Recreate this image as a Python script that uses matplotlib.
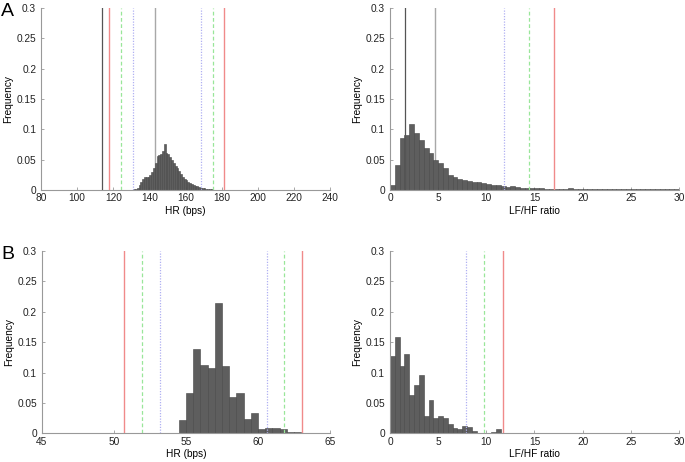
import numpy as np
import matplotlib
matplotlib.use("Agg")
import matplotlib.pyplot as plt
from matplotlib.ticker import FuncFormatter

plt.rcParams['font.family'] = ['Liberation Sans', 'DejaVu Sans']
plt.rcParams['font.size'] = 7.3

# ---- panel A, heart rate (1 bps bins starting at 131)
hr_a_start = 131.0
hr_a_width = 1.0
hr_a_freq = [0.001, 0.002, 0.004, 0.008, 0.013, 0.018, 0.021, 0.022, 0.022, 0.025,
             0.030, 0.036, 0.045, 0.056, 0.057, 0.060, 0.065, 0.076, 0.061, 0.059,
             0.055, 0.050, 0.045, 0.040, 0.036, 0.031, 0.027, 0.022, 0.018, 0.016,
             0.014, 0.012, 0.010, 0.008, 0.007, 0.006, 0.005, 0.004, 0.003, 0.003,
             0.002, 0.002, 0.001, 0.001, 0.0005]
hr_a_red = [117.8, 181.5]
hr_a_green = [124.3, 175.2]
hr_a_blue = [130.8, 168.6]
hr_a_dark = [113.9]
hr_a_grey = [143.0]

# ---- panel A, LF/HF ratio (0.5 bins from 0)
lf_a_start = 0.0
lf_a_width = 0.5
lf_a_freq = [0.009, 0.042, 0.086, 0.091, 0.108, 0.094, 0.083, 0.070, 0.061, 0.050,
             0.045, 0.037, 0.025, 0.021, 0.018, 0.017, 0.015, 0.014, 0.013, 0.012,
             0.010, 0.008, 0.008, 0.006, 0.005, 0.006, 0.005, 0.004, 0.003, 0.003,
             0.003, 0.003, 0.002, 0.002, 0.002, 0.002, 0.002, 0.003, 0.002, 0.002,
             0.001, 0.002, 0.001, 0.002, 0.001, 0.001, 0.002, 0.001, 0.001, 0.001,
             0.001, 0.002, 0.001, 0.001, 0.001, 0.002, 0.001, 0.001, 0.001, 0.002]
lf_a_red = [17.06]
lf_a_green = [14.47]
lf_a_blue = [11.8]
lf_a_dark = [1.59]
lf_a_grey = [4.7]

# ---- panel B, heart rate (0.5 bps bins starting at 54.5)
hr_b_start = 54.5
hr_b_width = 0.5
hr_b_freq = [0.022, 0.067, 0.139, 0.112, 0.108, 0.214, 0.111, 0.059, 0.067, 0.024,
             0.033, 0.007, 0.009, 0.009, 0.007, 0.002, 0.002]
hr_b_red = [50.69, 63.07]
hr_b_green = [51.96, 61.83]
hr_b_blue = [53.18, 60.62]

# ---- panel B, LF/HF ratio (0.5 bins from 0)
lf_b_start = 0.0
lf_b_width = 0.5
lf_b_freq = [0.127, 0.159, 0.111, 0.130, 0.063, 0.080, 0.096, 0.029, 0.055, 0.026,
             0.029, 0.026, 0.016, 0.009, 0.007, 0.012, 0.010, 0.003, 0.0, 0.0,
             0.0, 0.002, 0.007]
lf_b_red = [11.74]
lf_b_green = [9.8]
lf_b_blue = [7.93]

RED = '#f08a8a'
GREEN = '#99e699'
BLUE = '#b0b0f2'
DARK = '#555555'
GREY = '#a8a8a8'


def panel(ax, start, width, freq, xlim, xticks, xlabel,
          red=(), green=(), blue=(), dark=(), grey=()):
    lefts = start + width * np.arange(len(freq))
    ax.bar(lefts, freq, width=width, align='edge', color='#5e5e5e',
           edgecolor='#454545', linewidth=0.4, zorder=2)
    for x in red:
        ax.axvline(x, color=RED, lw=1.0, zorder=3)
    for x in green:
        ax.axvline(x, color=GREEN, lw=0.9, ls=(0, (3, 2)), zorder=3)
    for x in blue:
        ax.axvline(x, color=BLUE, lw=0.9, ls=(0, (1, 1.2)), zorder=3)
    for x in dark:
        ax.axvline(x, color=DARK, lw=0.9, zorder=3)
    for x in grey:
        ax.axvline(x, color=GREY, lw=1.0, zorder=1)
    ax.set_xlim(*xlim)
    ax.set_ylim(0, 0.3)
    ax.set_xticks(xticks)
    ax.set_yticks(np.arange(0, 0.31, 0.05))
    ax.yaxis.set_major_formatter(FuncFormatter(lambda v, p: '%g' % round(v, 2)))
    ax.set_xlabel(xlabel, labelpad=1.5)
    ax.set_ylabel('Frequency', labelpad=2.5)
    for s in ['top', 'right']:
        ax.spines[s].set_visible(False)
    for s in ['left', 'bottom']:
        ax.spines[s].set_color('#999999')
        ax.spines[s].set_linewidth(0.8)
    ax.tick_params(direction='in', length=2.5, width=0.6, color='#999999',
                   labelcolor='#222222')
    ax.tick_params(axis='x', pad=2.5)
    ax.tick_params(axis='y', pad=3.5)


fig = plt.figure(figsize=(6.85, 4.62), dpi=100)
ax1 = fig.add_axes([0.0599, 0.5887, 0.4219, 0.394])
ax2 = fig.add_axes([0.5693, 0.5887, 0.4219, 0.394])
ax3 = fig.add_axes([0.0609, 0.0621, 0.4210, 0.3946])
ax4 = fig.add_axes([0.5693, 0.0621, 0.4219, 0.3946])

panel(ax1, hr_a_start, hr_a_width, hr_a_freq, (80, 240), range(80, 241, 20), 'HR (bps)',
      hr_a_red, hr_a_green, hr_a_blue, hr_a_dark, hr_a_grey)
panel(ax2, lf_a_start, lf_a_width, lf_a_freq, (0, 30), range(0, 31, 5), 'LF/HF ratio',
      lf_a_red, lf_a_green, lf_a_blue, lf_a_dark, lf_a_grey)
panel(ax3, hr_b_start, hr_b_width, hr_b_freq, (45, 65), range(45, 66, 5), 'HR (bps)',
      hr_b_red, hr_b_green, hr_b_blue)
panel(ax4, lf_b_start, lf_b_width, lf_b_freq, (0, 30), range(0, 31, 5), 'LF/HF ratio',
      lf_b_red, lf_b_green, lf_b_blue)

fig.text(0.002, 0.965, 'A', fontsize=14, va='baseline', ha='left')
fig.text(0.002, 0.44, 'B', fontsize=14, va='baseline', ha='left')

fig.savefig('out.png', dpi=100)
